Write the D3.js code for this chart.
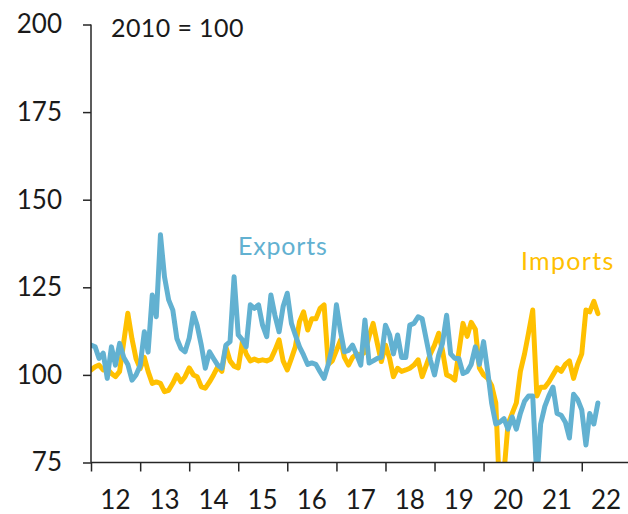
<!DOCTYPE html>
<html>
<head>
<meta charset="utf-8">
<script src="https://cdn.jsdelivr.net/npm/d3@7"></script>
<style>
  body { margin: 0; background: #fff; }
  svg text { font-family: Lato, "DejaVu Sans", sans-serif; fill: #1a1a1a; }
</style>
</head>
<body>
<svg id="chart" width="628" height="514"></svg>
<script>
// Monthly series, first value is Jan 2012 (2010 = 100)
const firstMonth = new Date(2012, 0, 1);

const exportsIdx = [
    108.5, 108, 104.7, 106.2, 99, 108, 102.8, 109, 105, 103, 98.5, 100,
    102.7, 112.3, 106.5, 122.8, 116.6, 140, 128, 121.4, 118.5, 110.4, 107.5, 106.6,
    110.5, 117.6, 114.2, 108.5, 101.9, 106.6, 104.7, 102.8, 101.9, 108.5, 109.5, 128,
    111.4, 110, 108, 120, 119, 120, 114.2, 110.9, 122.8, 117, 112.3, 119.5,
    123.3, 114.7, 111.4, 108, 105.7, 103, 103.4, 103, 100.9, 99, 103, 108,
    120, 112.3, 106.6, 107, 108.5, 105.7, 102.8, 115.7, 103.4, 104, 104.7, 105,
    114.2, 111.4, 106, 111.4, 105, 105, 114.2, 114.7, 116.6, 116, 110, 104.3,
    100, 105.7, 109, 117, 106, 104.7, 104.7, 100.4, 101, 103, 108, 103,
    109.5, 101, 92, 86, 86.5, 87.5, 84.5, 88, 84.5, 89, 92.5, 94,
    94, 70, 86, 91, 94, 96.5, 89, 88.5, 86.5, 82, 94.5, 93,
    90, 80, 89, 86, 92
];

const importsIdx = [
    101.4, 102.3, 102.8, 101.4, 101.8, 100.4, 99.5, 101, 109.5, 117.6, 110.3, 104.7,
    101.8, 105, 101, 97.6, 98, 97.6, 95.2, 95.6, 97.6, 100, 98, 99.5,
    102, 100, 99.5, 96.6, 96.2, 98, 100, 102.3, 101, 108, 104, 102.5,
    102, 109.5, 106, 104, 104.5, 104, 104.3, 104, 104.5, 107, 110, 104,
    101.4, 104.7, 108, 115.2, 118, 112.8, 116, 116, 119, 120, 103, 104,
    107, 110, 105, 102.8, 105, 106, 105.7, 106.5, 111, 114.7, 109, 103.8,
    108.5, 104.7, 99.5, 101.9, 101, 101.4, 101.9, 102.8, 104.3, 99.5, 102.8, 106,
    108.5, 111.9, 107, 100, 99.5, 98.5, 106.5, 114.7, 111, 115, 113, 102,
    100, 99, 97, 92, 65, 72, 86, 89, 92, 101, 106, 112,
    118.5, 94, 96.5, 96.5, 98, 100, 102, 101, 103, 104, 99, 103,
    106, 118.5, 118, 121, 117.5
];

const yTicks = [75, 100, 125, 150, 175, 200];
const yearLabels = ['12', '13', '14', '15', '16', '17', '18', '19', '20', '21', '22'];

// Draws the chart
function drawChart() {
    const svg = d3.select('#chart');
    const left = 91, right = 630.8, top = 24.5, bottom = 462.5;
    const axisColor = '#262626';

    const xScale = d3.scaleTime()
        .domain([new Date(2012, 0, 1), new Date(2023, 0, 1)])
        .range([left, right]);

    const yScale = d3.scaleLinear()
        .domain([75, 200])
        .range([bottom, top]);

    // plot area clip, values below 75 are cut at the axis
    svg.append('defs').append('clipPath')
        .attr('id', 'plot-clip')
        .append('rect')
        .attr('x', left)
        .attr('y', top - 10)
        .attr('width', 628 - left)
        .attr('height', bottom - top + 10);

    const toPoints = (values) => values.map((v, i) => ({
        date: d3.timeMonth.offset(firstMonth, i),
        value: v
    }));

    const line = d3.line()
        .x(d => xScale(d.date))
        .y(d => yScale(d.value));

    const series = [
        { name: 'Imports', values: importsIdx, color: '#ffc000' },
        { name: 'Exports', values: exportsIdx, color: '#62b1d1' }
    ];

    const lines = svg.append('g').attr('clip-path', 'url(#plot-clip)');
    for (let s of series) {
        lines.append('path')
            .datum(toPoints(s.values))
            .attr('d', line)
            .attr('fill', 'none')
            .attr('stroke', s.color)
            .attr('stroke-width', 5)
            .attr('stroke-linejoin', 'round')
            .attr('stroke-linecap', 'round');
    }

    // y-axis on the left
    const yAxis = svg.append('g')
        .attr('transform', `translate(${left},0)`)
        .call(d3.axisLeft(yScale).tickValues(yTicks).tickSize(8).tickPadding(21));
    yAxis.select('.domain').remove();
    yAxis.selectAll('line').attr('stroke', axisColor).attr('stroke-width', 1.5);
    yAxis.selectAll('text').style('font-size', '26px').attr('fill', '#1a1a1a');
    yAxis.append('line')
        .attr('x1', 0).attr('x2', 0)
        .attr('y1', top).attr('y2', bottom)
        .attr('stroke', axisColor).attr('stroke-width', 1.5);

    // x-axis at the bottom, ticks on year boundaries
    const xAxis = svg.append('g')
        .attr('transform', `translate(0,${bottom})`)
        .call(d3.axisBottom(xScale).ticks(d3.timeYear.every(1)).tickSize(9).tickFormat(''));
    xAxis.select('.domain').remove();
    xAxis.selectAll('line').attr('stroke', axisColor).attr('stroke-width', 1.5);
    xAxis.append('line')
        .attr('x1', left).attr('x2', 628)
        .attr('y1', 0).attr('y2', 0)
        .attr('stroke', axisColor).attr('stroke-width', 1.5);

    // year labels in the middle of each year
    svg.selectAll('.year-label')
        .data(yearLabels)
        .enter()
        .append('text')
        .attr('class', 'year-label')
        .attr('x', (d, i) => xScale(new Date(2012 + i, 6, 1)))
        .attr('y', 509)
        .attr('text-anchor', 'middle')
        .style('font-size', '26px')
        .text(d => d);

    // labels
    svg.append('text')
        .attr('x', 111)
        .attr('y', 37)
        .style('font-size', '25px')
        .style('letter-spacing', '0.4px')
        .text('2010 = 100');

    svg.append('text')
        .attr('x', 238)
        .attr('y', 255)
        .style('font-size', '25px')
        .style('letter-spacing', '0.8px')
        .style('fill', '#62b1d1')
        .text('Exports');

    svg.append('text')
        .attr('x', 521)
        .attr('y', 270)
        .style('font-size', '25px')
        .style('letter-spacing', '1.3px')
        .style('fill', '#ffc000')
        .text('Imports');
}

drawChart();
</script>
</body>
</html>
